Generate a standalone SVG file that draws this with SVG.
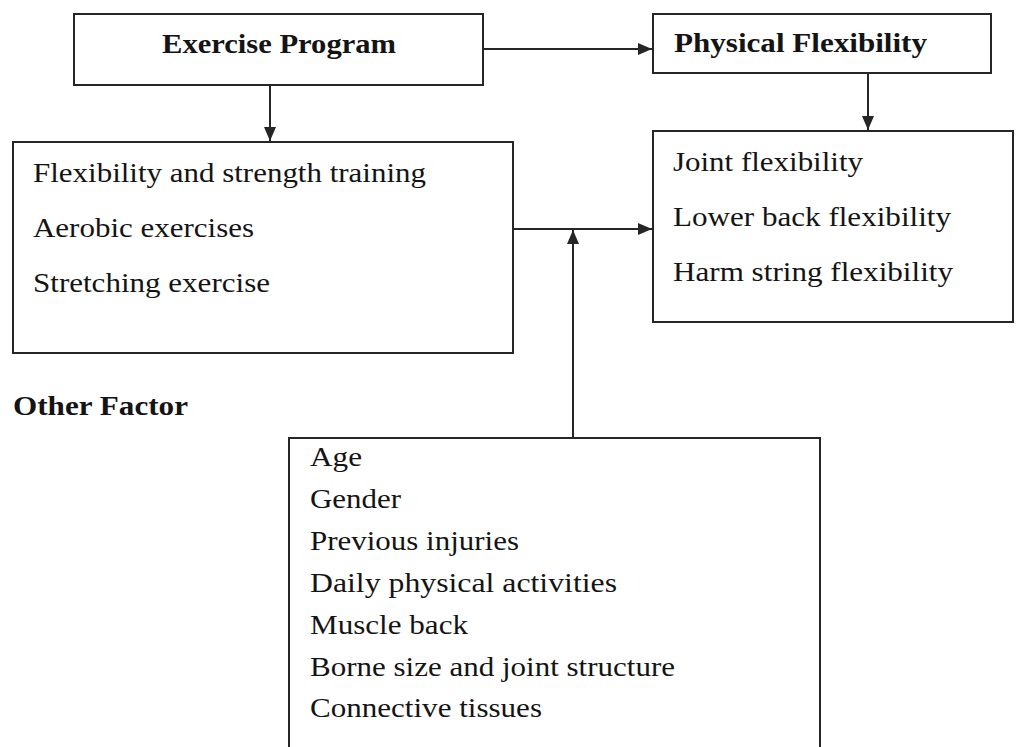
<svg xmlns="http://www.w3.org/2000/svg" width="1017" height="747" viewBox="0 0 1017 747">
<style>
.box{fill:#fff;stroke:#262626;stroke-width:2}
.t{font-family:"Liberation Serif","Times New Roman",serif;font-size:28px;fill:#141414}
.b{font-weight:bold}
.c{stroke:#262626;stroke-width:2;fill:none}
</style>
<defs>
<marker id="ah" markerWidth="14" markerHeight="12" refX="14" refY="6" orient="auto" markerUnits="userSpaceOnUse">
<path d="M0,0 L14,6 L0,12 Z" fill="#262626"/>
</marker>
</defs>
<rect width="1017" height="747" fill="#fff"/>
<g id="connectors">
<line class="c" x1="483" y1="49" x2="652" y2="49" marker-end="url(#ah)"/>
<line class="c" x1="270" y1="85" x2="270" y2="141" marker-end="url(#ah)"/>
<line class="c" x1="868" y1="73" x2="868" y2="130" marker-end="url(#ah)"/>
<line class="c" x1="513" y1="229" x2="652" y2="229" marker-end="url(#ah)"/>
<line class="c" x1="573" y1="438" x2="573" y2="230" marker-end="url(#ah)"/>
</g>
<g id="exercise-program">
<rect class="box" x="74" y="14" width="409" height="71"/>
<text class="t b" x="162" y="53" textLength="234" lengthAdjust="spacingAndGlyphs">Exercise Program</text>
</g>
<g id="physical-flexibility">
<rect class="box" x="653" y="14" width="338" height="59"/>
<text class="t b" x="674" y="52" textLength="253" lengthAdjust="spacingAndGlyphs">Physical Flexibility</text>
</g>
<g id="exercise-items">
<rect class="box" x="13" y="142" width="500" height="211"/>
<text class="t" x="33" y="182" textLength="393" lengthAdjust="spacingAndGlyphs">Flexibility and strength training</text>
<text class="t" x="33" y="237" textLength="221" lengthAdjust="spacingAndGlyphs">Aerobic exercises</text>
<text class="t" x="33" y="292" textLength="237" lengthAdjust="spacingAndGlyphs">Stretching exercise</text>
</g>
<g id="flexibility-items">
<rect class="box" x="653" y="131" width="360" height="191"/>
<text class="t" x="673" y="171" textLength="190" lengthAdjust="spacingAndGlyphs">Joint flexibility</text>
<text class="t" x="673" y="226" textLength="278" lengthAdjust="spacingAndGlyphs">Lower back flexibility</text>
<text class="t" x="673" y="281" textLength="280" lengthAdjust="spacingAndGlyphs">Harm string flexibility</text>
</g>
<g id="other-factor-label">
<text class="t b" x="13" y="415" textLength="175" lengthAdjust="spacingAndGlyphs">Other Factor</text>
</g>
<g id="other-factors">
<path class="box" d="M289,760 V438 H820 V760"/>
<text class="t" x="310" y="466" textLength="52" lengthAdjust="spacingAndGlyphs">Age</text>
<text class="t" x="310" y="508" textLength="91" lengthAdjust="spacingAndGlyphs">Gender</text>
<text class="t" x="310" y="550" textLength="209" lengthAdjust="spacingAndGlyphs">Previous injuries</text>
<text class="t" x="310" y="592" textLength="307" lengthAdjust="spacingAndGlyphs">Daily physical activities</text>
<text class="t" x="310" y="634" textLength="158" lengthAdjust="spacingAndGlyphs">Muscle back</text>
<text class="t" x="310" y="676" textLength="365" lengthAdjust="spacingAndGlyphs">Borne size and joint structure</text>
<text class="t" x="310" y="717" textLength="232" lengthAdjust="spacingAndGlyphs">Connective tissues</text>
</g>
</svg>
